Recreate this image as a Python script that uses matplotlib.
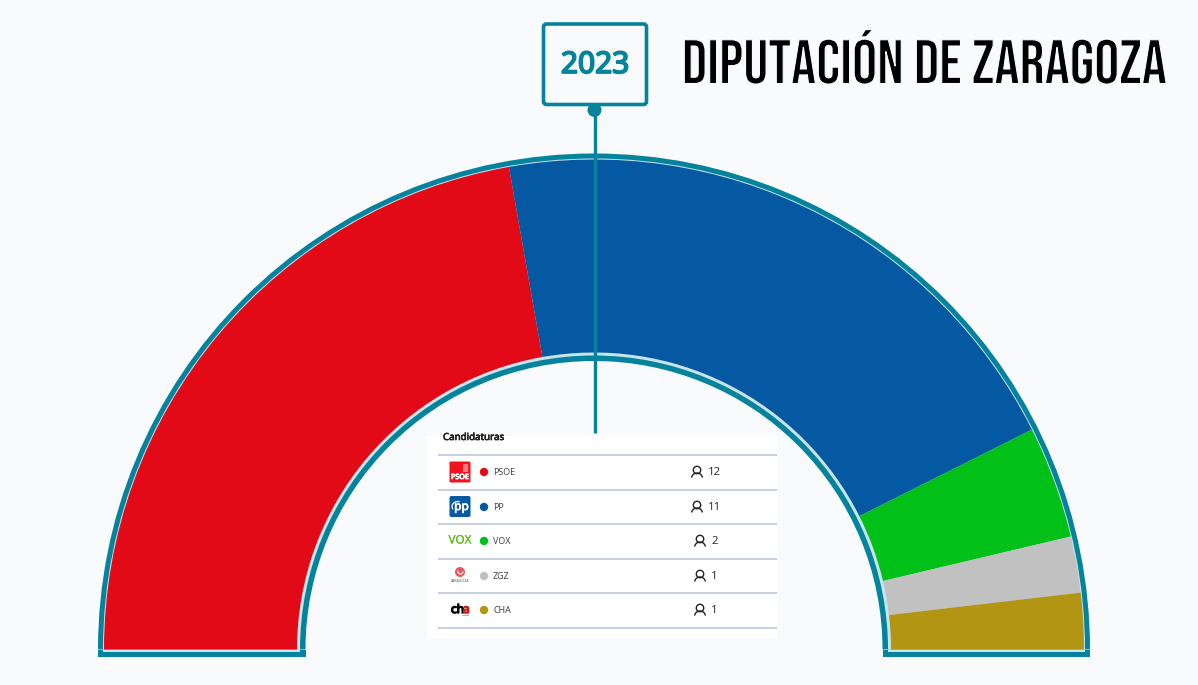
import matplotlib
matplotlib.use('Agg')
import matplotlib.pyplot as plt
import matplotlib.patheffects as pe
from matplotlib import font_manager
from matplotlib.patches import Wedge, Rectangle, FancyBboxPatch, Circle, Arc

parties = ['PSOE', 'PP', 'VOX', 'ZGZ', 'CHA']
seats = [12, 11, 2, 1, 1]
party_colors = ['#e30a17', '#0558a2', '#01c018', '#c1c1c1', '#b29512']
title = 'DIPUTACIÓN DE ZARAGOZA'
year = '2023'

TEAL = '#05829c'
LIGHT = '#c8e4ec'
BG = '#f8fafc'
CX, CY = 594, 649.5
FONT = 'Noto Sans'

installed = set(f.name for f in font_manager.fontManager.ttflist)

def pick_font(*names):
  for name in names:
    if name in installed:
      return name
  return 'DejaVu Sans'

title_font = pick_font('Bebas Neue', 'Oswald', 'Roboto Condensed', 'Liberation Sans Narrow')

class Thinner(pe.AbstractPathEffect):
  # fill first, then eat into the outline with the background colour
  def __init__(self, width, color):
    super().__init__()
    self.width = width
    self.color = color

  def draw_path(self, renderer, gc, tpath, affine, rgbFace=None):
    renderer.draw_path(gc, tpath, affine, rgbFace)
    gc0 = renderer.new_gc()
    gc0.copy_properties(gc)
    gc0.set_linewidth(self.width)
    gc0.set_foreground(self.color)
    renderer.draw_path(gc0, tpath, affine, None)
    gc0.restore()

def bold(color, width):
  # the sans here has no real bold face
  return [pe.withStroke(linewidth=width, foreground=color)]

def main():
  fig = plt.figure(figsize=(11.98, 6.85), dpi=100, facecolor=BG)
  ax = fig.add_axes([0, 0, 1, 1])
  ax.set_xlim(0, 1198)
  ax.set_ylim(685, 0)  # pixel coords, y down
  ax.axis('off')

  # ---- hemicycle frame ----
  ax.add_patch(Wedge((CX, CY), 496, 180, 360, width=207.5, fc=TEAL, ec='none', zorder=1))
  ax.add_patch(Rectangle((CX - 496, CY), 207.5, 7.5, fc=TEAL, ec='none', zorder=1))
  ax.add_patch(Rectangle((CX + 288.5, CY), 207.5, 7.5, fc=TEAL, ec='none', zorder=1))
  ax.add_patch(Wedge((CX, CY), 491, 180, 360, width=197, fc=LIGHT, ec='none', zorder=2))
  ax.add_patch(Rectangle((CX - 491, CY), 197, 2.5, fc=LIGHT, ec='none', zorder=2))
  ax.add_patch(Rectangle((CX + 294, CY), 197, 2.5, fc=LIGHT, ec='none', zorder=2))

  # ---- party wedges, y axis is flipped so angles run clockwise from the left ----
  total = sum(seats)
  start = 180
  for n, color in zip(seats, party_colors):
    end = start + 180 * n / total
    ax.add_patch(Wedge((CX, CY), 490, start, end, width=193, fc=color, ec='none', zorder=3))
    start = end

  # ---- year marker ----
  ax.plot([594.5, 594.5], [110, 433], color=TEAL, lw=2.4, zorder=4, solid_capstyle='butt')
  ax.add_patch(Circle((594.5, 110), 7, fc=TEAL, ec='none', zorder=4))
  ax.add_patch(FancyBboxPatch((543.5, 24), 103, 80.5, boxstyle='round,pad=0,rounding_size=3',
                              fc=BG, ec=TEAL, lw=2.6, zorder=5))
  ax.text(595, 65.5, year, color=TEAL, fontsize=21.5, family=FONT,
          ha='center', va='center', zorder=6, path_effects=bold(TEAL, 1.3))

  ax.text(924.5, 83.5, title, color='black', fontsize=45, family=title_font,
          ha='center', va='baseline', zorder=6, path_effects=[Thinner(0.8, BG)])

  # ---- table ----
  table = Rectangle((427, 436), 350, 202, fc='white', ec='none', zorder=5)
  ax.add_patch(table)
  head = ax.text(443, 440, 'Candidaturas', fontsize=7, family=FONT,
                 color='#222222', va='baseline', zorder=6, path_effects=bold('#222222', 0.5))
  head.set_clip_path(table)

  line_y = [455, 490, 524, 559, 593, 628]
  for y in line_y:
    ax.plot([438, 777], [y, y], color='#bcc2d4', lw=1.1, zorder=6, solid_capstyle='butt')

  row_y = [472, 507, 541, 576, 610]
  icon_x = [697, 697, 700, 700, 700]
  for i, party in enumerate(parties):
    y = row_y[i]
    ax.add_patch(Circle((484, y), 4.2, fc=party_colors[i], ec='none', zorder=6))
    ax.text(493, y + 0.8, party, fontsize=6.4, family=FONT, color='#444444',
            va='center', zorder=6)
    # person icon
    ax.add_patch(Circle((icon_x[i], y - 2), 3.7, fc='none', ec='#222222', lw=1.0, zorder=6))
    ax.add_patch(Arc((icon_x[i], y + 6.5), 11, 11, theta1=190, theta2=350, ec='#222222', lw=1.0, zorder=6))
    ax.text(icon_x[i] + 11, y + 0.7, str(seats[i]), fontsize=8.2, family=FONT, color='#333333',
            va='center', zorder=6)

  draw_logos(ax, row_y)

  fig.savefig('out.png', dpi=100, facecolor=BG)

def draw_logos(ax, row_y):
  # rough versions of the party logos
  ax.add_patch(FancyBboxPatch((449.5, 461.5), 21, 21, boxstyle='round,pad=0,rounding_size=1.5',
                              fc='#f0141e', ec='none', zorder=6))
  ax.text(460, 477.5, 'PSOE', color='white', fontsize=5.2, family=FONT,
          ha='center', va='center', zorder=7, path_effects=bold('white', 0.5))
  ax.add_patch(Rectangle((463, 464), 5, 7.5, fc='#f77a80', ec='none', zorder=7))

  ax.add_patch(FancyBboxPatch((449.5, 496), 21, 21, boxstyle='round,pad=0,rounding_size=2',
                              fc='#0558a2', ec='none', zorder=6))
  ax.text(461.5, row_y[1] - 0.5, 'pp', color='white', fontsize=8.6, family=FONT,
          ha='center', va='center', zorder=7, path_effects=bold('white', 0.5))
  ax.add_patch(Arc((458, row_y[1] - 0.5), 12, 10, theta1=150, theta2=290, ec='white', lw=0.9, zorder=7))

  ax.text(460, row_y[2], 'VOX', color='#63bd1e', fontsize=8.4, family=FONT,
          ha='center', va='center', zorder=7, path_effects=bold('#63bd1e', 0.15))

  ax.add_patch(Circle((460, 572), 5, fc='#e8575c', ec='none', zorder=7))
  ax.add_patch(Arc((460.5, 571.5), 5, 5, theta1=0, theta2=200, ec='white', lw=0.8, zorder=8))
  ax.text(460, 581, 'ZARAGOZA', color='#555555', fontsize=2.6,
          family=FONT, ha='center', va='center', zorder=7)

  ax.text(451, row_y[4] - 0.5, 'ch', color='black', fontsize=8.6, family=FONT,
          ha='left', va='center', zorder=7, path_effects=bold('black', 1.0))
  ax.text(463, row_y[4] - 0.5, 'a', color='#c8201c', fontsize=8.6, family=FONT,
          ha='left', va='center', zorder=7, path_effects=bold('#c8201c', 1.0))
  ax.add_patch(Rectangle((462, 614.5), 7, 1.5, fc='#f0b030', ec='none', zorder=7))

if __name__ == '__main__':
  main()
